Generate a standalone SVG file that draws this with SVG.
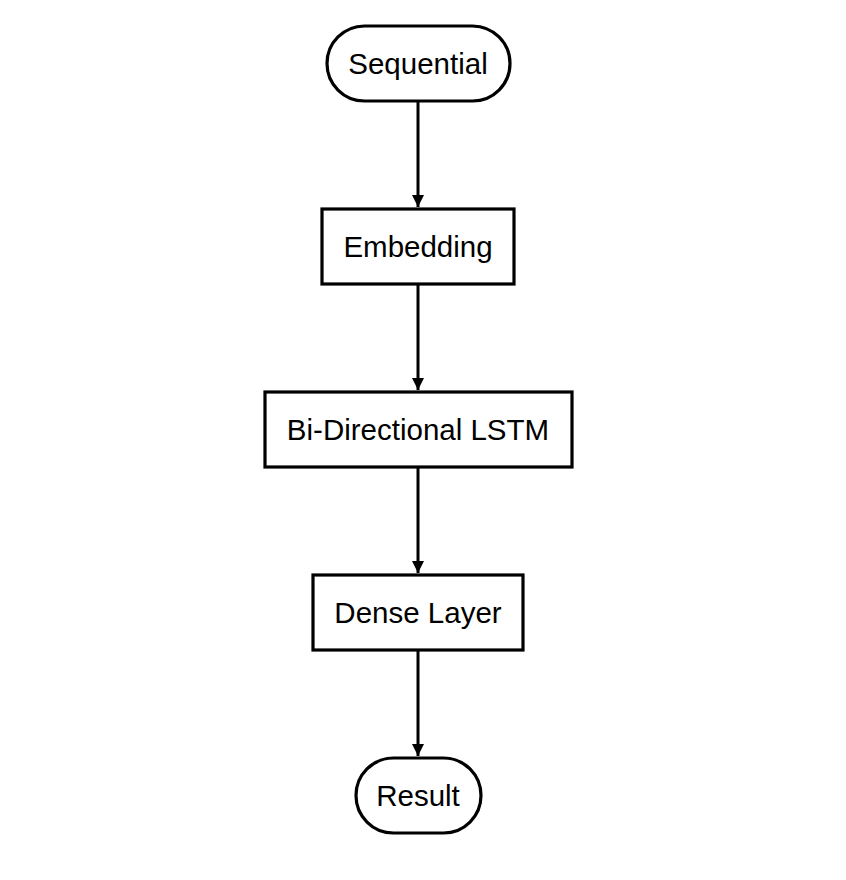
<svg xmlns="http://www.w3.org/2000/svg" width="846" height="880" viewBox="0 0 846 880">
<defs>
<style>
.box{fill:#fff;stroke:#000;stroke-width:3.2}
.lbl{font-family:"Liberation Sans",Arial,Helvetica,sans-serif;font-size:29.5px;fill:#000;text-anchor:middle}
.edge{stroke:#000;stroke-width:3;fill:none;marker-end:url(#arr)}
</style>
<marker id="arr" viewBox="0 0 10 10" refX="10" refY="5" markerWidth="4" markerHeight="4" markerUnits="strokeWidth" orient="auto">
<path d="M0,0 L10,5 L0,10 z" fill="#000"/>
</marker>
</defs>
<rect width="846" height="880" fill="#fff"/>
<g id="connectors">
<line class="edge" x1="418" y1="101" x2="418" y2="207"/>
<line class="edge" x1="418" y1="284" x2="418" y2="390"/>
<line class="edge" x1="418" y1="467" x2="418" y2="573"/>
<line class="edge" x1="418" y1="650" x2="418" y2="756"/>
</g>
<g id="sequential">
<rect class="box" x="327" y="26" width="183" height="75" rx="37.5"/>
<text class="lbl" x="418" y="74">Sequential</text>
</g>
<g id="embedding">
<rect class="box" x="322" y="209" width="192" height="75"/>
<text class="lbl" x="418" y="257">Embedding</text>
</g>
<g id="lstm">
<rect class="box" x="265" y="392" width="307" height="75"/>
<text class="lbl" x="418" y="440">Bi-Directional LSTM</text>
</g>
<g id="dense">
<rect class="box" x="313" y="575" width="210" height="75"/>
<text class="lbl" x="418" y="623">Dense Layer</text>
</g>
<g id="result">
<rect class="box" x="356" y="758" width="125" height="75" rx="37.5"/>
<text class="lbl" x="418" y="806">Result</text>
</g>
</svg>
